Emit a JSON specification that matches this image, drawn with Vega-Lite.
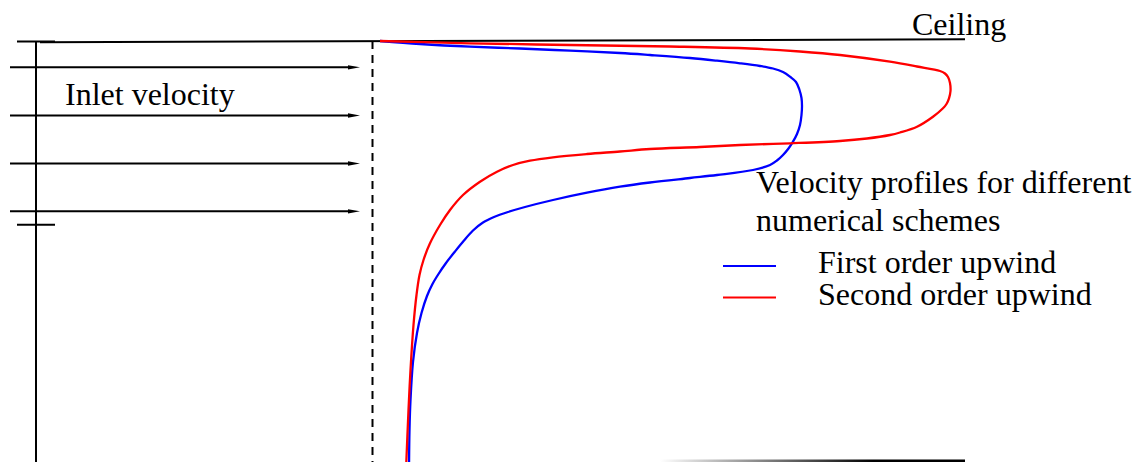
{
  "$schema": "https://vega.github.io/schema/vega-lite/v6.json",
  "width": 1142,
  "height": 462,
  "autosize": {"type": "fit", "contains": "padding"},
  "padding": 0,
  "background": "white",
  "config": {"view": {"stroke": null}},
  "datasets": {
    "solid": [
      {"part": "wall", "x": 36, "y": 41, "x2": 36, "y2": 470},
      {"part": "top tick", "x": 17, "y": 41.5, "x2": 55, "y2": 41.5},
      {"part": "bottom tick", "x": 17, "y": 224.7, "x2": 55, "y2": 224.7},
      {"part": "ceiling", "x": 40, "y": 42.3, "x2": 965, "y2": 39.3},
      {"part": "arrow 1", "x": 10, "y": 67.3, "x2": 350, "y2": 67.3},
      {"part": "arrow 2", "x": 10, "y": 115.5, "x2": 350, "y2": 115.5},
      {"part": "arrow 3", "x": 10, "y": 163.5, "x2": 350, "y2": 163.5},
      {"part": "arrow 4", "x": 10, "y": 211.3, "x2": 350, "y2": 211.3}
    ],
    "dashed": [
      {"part": "inlet", "x": 372.5, "y": 41, "x2": 372.5, "y2": 470}
    ],
    "heads": [
      {"x": 354, "y": 67.3},
      {"x": 354, "y": 115.5},
      {"x": 354, "y": 163.5},
      {"x": 354, "y": 211.3}
    ],
    "floor": [
      {"x": 660, "x2": 965, "y": 459.5, "y2": 462}
    ],
    "curves": [
      {"scheme": "First order upwind", "t": 1, "x": 380, "y": 41},
      {"scheme": "First order upwind", "t": 2, "x": 420, "y": 44},
      {"scheme": "First order upwind", "t": 3, "x": 470, "y": 46.7},
      {"scheme": "First order upwind", "t": 4, "x": 520, "y": 48.5},
      {"scheme": "First order upwind", "t": 5, "x": 570, "y": 50.7},
      {"scheme": "First order upwind", "t": 6, "x": 620, "y": 53},
      {"scheme": "First order upwind", "t": 7, "x": 650, "y": 55},
      {"scheme": "First order upwind", "t": 8, "x": 690, "y": 58},
      {"scheme": "First order upwind", "t": 9, "x": 717, "y": 60.7},
      {"scheme": "First order upwind", "t": 10, "x": 740, "y": 63.3},
      {"scheme": "First order upwind", "t": 11, "x": 760, "y": 66},
      {"scheme": "First order upwind", "t": 12, "x": 773, "y": 68.5},
      {"scheme": "First order upwind", "t": 13, "x": 783, "y": 72},
      {"scheme": "First order upwind", "t": 14, "x": 790, "y": 76.7},
      {"scheme": "First order upwind", "t": 15, "x": 796, "y": 82},
      {"scheme": "First order upwind", "t": 16, "x": 799.5, "y": 90},
      {"scheme": "First order upwind", "t": 17, "x": 801.5, "y": 98},
      {"scheme": "First order upwind", "t": 18, "x": 802, "y": 106},
      {"scheme": "First order upwind", "t": 19, "x": 801.5, "y": 115},
      {"scheme": "First order upwind", "t": 20, "x": 800, "y": 125},
      {"scheme": "First order upwind", "t": 21, "x": 797, "y": 134},
      {"scheme": "First order upwind", "t": 22, "x": 793, "y": 141.7},
      {"scheme": "First order upwind", "t": 23, "x": 788.5, "y": 148.5},
      {"scheme": "First order upwind", "t": 24, "x": 783, "y": 155},
      {"scheme": "First order upwind", "t": 25, "x": 777, "y": 160.5},
      {"scheme": "First order upwind", "t": 26, "x": 770, "y": 165},
      {"scheme": "First order upwind", "t": 27, "x": 753, "y": 170},
      {"scheme": "First order upwind", "t": 28, "x": 717, "y": 175},
      {"scheme": "First order upwind", "t": 29, "x": 690, "y": 178},
      {"scheme": "First order upwind", "t": 30, "x": 650, "y": 182.5},
      {"scheme": "First order upwind", "t": 31, "x": 620, "y": 186.7},
      {"scheme": "First order upwind", "t": 32, "x": 587, "y": 192.7},
      {"scheme": "First order upwind", "t": 33, "x": 553, "y": 200},
      {"scheme": "First order upwind", "t": 34, "x": 525, "y": 207},
      {"scheme": "First order upwind", "t": 35, "x": 508, "y": 212},
      {"scheme": "First order upwind", "t": 36, "x": 494, "y": 217},
      {"scheme": "First order upwind", "t": 37, "x": 483, "y": 222.5},
      {"scheme": "First order upwind", "t": 38, "x": 473, "y": 230.5},
      {"scheme": "First order upwind", "t": 39, "x": 464, "y": 240.5},
      {"scheme": "First order upwind", "t": 40, "x": 455, "y": 251.5},
      {"scheme": "First order upwind", "t": 41, "x": 446, "y": 263},
      {"scheme": "First order upwind", "t": 42, "x": 438.5, "y": 274},
      {"scheme": "First order upwind", "t": 43, "x": 432.5, "y": 284},
      {"scheme": "First order upwind", "t": 44, "x": 427, "y": 296},
      {"scheme": "First order upwind", "t": 45, "x": 421.5, "y": 313},
      {"scheme": "First order upwind", "t": 46, "x": 417, "y": 333},
      {"scheme": "First order upwind", "t": 47, "x": 413, "y": 362},
      {"scheme": "First order upwind", "t": 48, "x": 410.5, "y": 400},
      {"scheme": "First order upwind", "t": 49, "x": 409.5, "y": 430},
      {"scheme": "First order upwind", "t": 50, "x": 409, "y": 470},
      {"scheme": "Second order upwind", "t": 1, "x": 380, "y": 41},
      {"scheme": "Second order upwind", "t": 2, "x": 470, "y": 43.3},
      {"scheme": "Second order upwind", "t": 3, "x": 570, "y": 45},
      {"scheme": "Second order upwind", "t": 4, "x": 670, "y": 46.5},
      {"scheme": "Second order upwind", "t": 5, "x": 750, "y": 48.5},
      {"scheme": "Second order upwind", "t": 6, "x": 800, "y": 51.5},
      {"scheme": "Second order upwind", "t": 7, "x": 840, "y": 55},
      {"scheme": "Second order upwind", "t": 8, "x": 890, "y": 61.7},
      {"scheme": "Second order upwind", "t": 9, "x": 917, "y": 66.5},
      {"scheme": "Second order upwind", "t": 10, "x": 940, "y": 71},
      {"scheme": "Second order upwind", "t": 11, "x": 945, "y": 73.5},
      {"scheme": "Second order upwind", "t": 12, "x": 948, "y": 77},
      {"scheme": "Second order upwind", "t": 13, "x": 950, "y": 83},
      {"scheme": "Second order upwind", "t": 14, "x": 950.5, "y": 91},
      {"scheme": "Second order upwind", "t": 15, "x": 949, "y": 98.3},
      {"scheme": "Second order upwind", "t": 16, "x": 946.5, "y": 104},
      {"scheme": "Second order upwind", "t": 17, "x": 943, "y": 108.3},
      {"scheme": "Second order upwind", "t": 18, "x": 933, "y": 116.7},
      {"scheme": "Second order upwind", "t": 19, "x": 917, "y": 126.7},
      {"scheme": "Second order upwind", "t": 20, "x": 900, "y": 132.5},
      {"scheme": "Second order upwind", "t": 21, "x": 890, "y": 135},
      {"scheme": "Second order upwind", "t": 22, "x": 867, "y": 138.5},
      {"scheme": "Second order upwind", "t": 23, "x": 840, "y": 141},
      {"scheme": "Second order upwind", "t": 24, "x": 790, "y": 143.3},
      {"scheme": "Second order upwind", "t": 25, "x": 740, "y": 145},
      {"scheme": "Second order upwind", "t": 26, "x": 700, "y": 147},
      {"scheme": "Second order upwind", "t": 27, "x": 650, "y": 149},
      {"scheme": "Second order upwind", "t": 28, "x": 620, "y": 151.5},
      {"scheme": "Second order upwind", "t": 29, "x": 587, "y": 154},
      {"scheme": "Second order upwind", "t": 30, "x": 553, "y": 157.3},
      {"scheme": "Second order upwind", "t": 31, "x": 530, "y": 160.7},
      {"scheme": "Second order upwind", "t": 32, "x": 513, "y": 165},
      {"scheme": "Second order upwind", "t": 33, "x": 497, "y": 171.7},
      {"scheme": "Second order upwind", "t": 34, "x": 480, "y": 181.7},
      {"scheme": "Second order upwind", "t": 35, "x": 463, "y": 195},
      {"scheme": "Second order upwind", "t": 36, "x": 450, "y": 210},
      {"scheme": "Second order upwind", "t": 37, "x": 440, "y": 225},
      {"scheme": "Second order upwind", "t": 38, "x": 430, "y": 243.3},
      {"scheme": "Second order upwind", "t": 39, "x": 423.5, "y": 260},
      {"scheme": "Second order upwind", "t": 40, "x": 419.5, "y": 275},
      {"scheme": "Second order upwind", "t": 41, "x": 416.5, "y": 295},
      {"scheme": "Second order upwind", "t": 42, "x": 413.5, "y": 325},
      {"scheme": "Second order upwind", "t": 43, "x": 410.5, "y": 370},
      {"scheme": "Second order upwind", "t": 44, "x": 408.5, "y": 410},
      {"scheme": "Second order upwind", "t": 45, "x": 406, "y": 470}
    ],
    "keys": [
      {"scheme": "First order upwind", "x": 723, "x2": 776, "y": 266},
      {"scheme": "Second order upwind", "x": 723, "x2": 776, "y": 297.5}
    ],
    "labels": [
      {"text": "Ceiling", "x": 912, "y": 35},
      {"text": "Inlet velocity", "x": 65, "y": 105},
      {"text": "Velocity profiles for different", "x": 756, "y": 193.3},
      {"text": "numerical schemes", "x": 756, "y": 231},
      {"text": "First order upwind", "x": 818, "y": 272.7},
      {"text": "Second order upwind", "x": 818, "y": 305}
    ]
  },
  "layer": [
    {
      "data": {"name": "floor"},
      "mark": {
        "type": "rect",
        "clip": true,
        "fill": {
          "gradient": "linear",
          "x1": 0, "y1": 0, "x2": 1, "y2": 0,
          "stops": [
            {"offset": 0, "color": "#ffffff"},
            {"offset": 0.7, "color": "#000000"},
            {"offset": 1, "color": "#000000"}
          ]
        }
      },
      "encoding": {
        "x": {"field": "x", "type": "quantitative", "scale": {"domain": [0, 1142]}, "axis": null},
        "x2": {"field": "x2"},
        "y": {"field": "y", "type": "quantitative", "scale": {"domain": [0, 462], "reverse": true}, "axis": null},
        "y2": {"field": "y2"}
      }
    },
    {
      "data": {"name": "solid"},
      "mark": {"type": "rule", "color": "black", "strokeWidth": 2, "clip": true},
      "encoding": {
        "x": {"field": "x", "type": "quantitative", "scale": {"domain": [0, 1142]}, "axis": null},
        "x2": {"field": "x2"},
        "y": {"field": "y", "type": "quantitative", "scale": {"domain": [0, 462], "reverse": true}, "axis": null},
        "y2": {"field": "y2"}
      }
    },
    {
      "data": {"name": "dashed"},
      "mark": {"type": "rule", "color": "black", "strokeWidth": 2, "strokeDash": [8, 6], "clip": true},
      "encoding": {
        "x": {"field": "x", "type": "quantitative", "scale": {"domain": [0, 1142]}, "axis": null},
        "x2": {"field": "x2"},
        "y": {"field": "y", "type": "quantitative", "scale": {"domain": [0, 462], "reverse": true}, "axis": null},
        "y2": {"field": "y2"}
      }
    },
    {
      "data": {"name": "heads"},
      "mark": {"type": "point", "shape": "M-1,-0.36L1,0L-1,0.36Z", "size": 144, "filled": true, "color": "black", "opacity": 1, "strokeWidth": 0},
      "encoding": {
        "x": {"field": "x", "type": "quantitative", "scale": {"domain": [0, 1142]}, "axis": null},
        "y": {"field": "y", "type": "quantitative", "scale": {"domain": [0, 462], "reverse": true}, "axis": null}
      }
    },
    {
      "data": {"name": "curves"},
      "mark": {"type": "line", "strokeWidth": 2.3, "interpolate": "catmull-rom", "clip": true},
      "encoding": {
        "x": {"field": "x", "type": "quantitative", "scale": {"domain": [0, 1142]}, "axis": null},
        "y": {"field": "y", "type": "quantitative", "scale": {"domain": [0, 462], "reverse": true}, "axis": null},
        "order": {"field": "t", "type": "quantitative"},
        "color": {"field": "scheme", "type": "nominal", "scale": {"domain": ["First order upwind", "Second order upwind"], "range": ["#0000ff", "#ff0000"]}, "legend": null}
      }
    },
    {
      "data": {"name": "keys"},
      "mark": {"type": "rule", "strokeWidth": 2},
      "encoding": {
        "x": {"field": "x", "type": "quantitative", "scale": {"domain": [0, 1142]}, "axis": null},
        "x2": {"field": "x2"},
        "y": {"field": "y", "type": "quantitative", "scale": {"domain": [0, 462], "reverse": true}, "axis": null},
        "color": {"field": "scheme", "type": "nominal", "scale": {"domain": ["First order upwind", "Second order upwind"], "range": ["#0000ff", "#ff0000"]}, "legend": null}
      }
    },
    {
      "data": {"name": "labels"},
      "mark": {"type": "text", "font": "Liberation Serif", "fontSize": 32, "align": "left", "baseline": "alphabetic", "color": "black"},
      "encoding": {
        "x": {"field": "x", "type": "quantitative", "scale": {"domain": [0, 1142]}, "axis": null},
        "y": {"field": "y", "type": "quantitative", "scale": {"domain": [0, 462], "reverse": true}, "axis": null},
        "text": {"field": "text", "type": "nominal"}
      }
    }
  ]
}
